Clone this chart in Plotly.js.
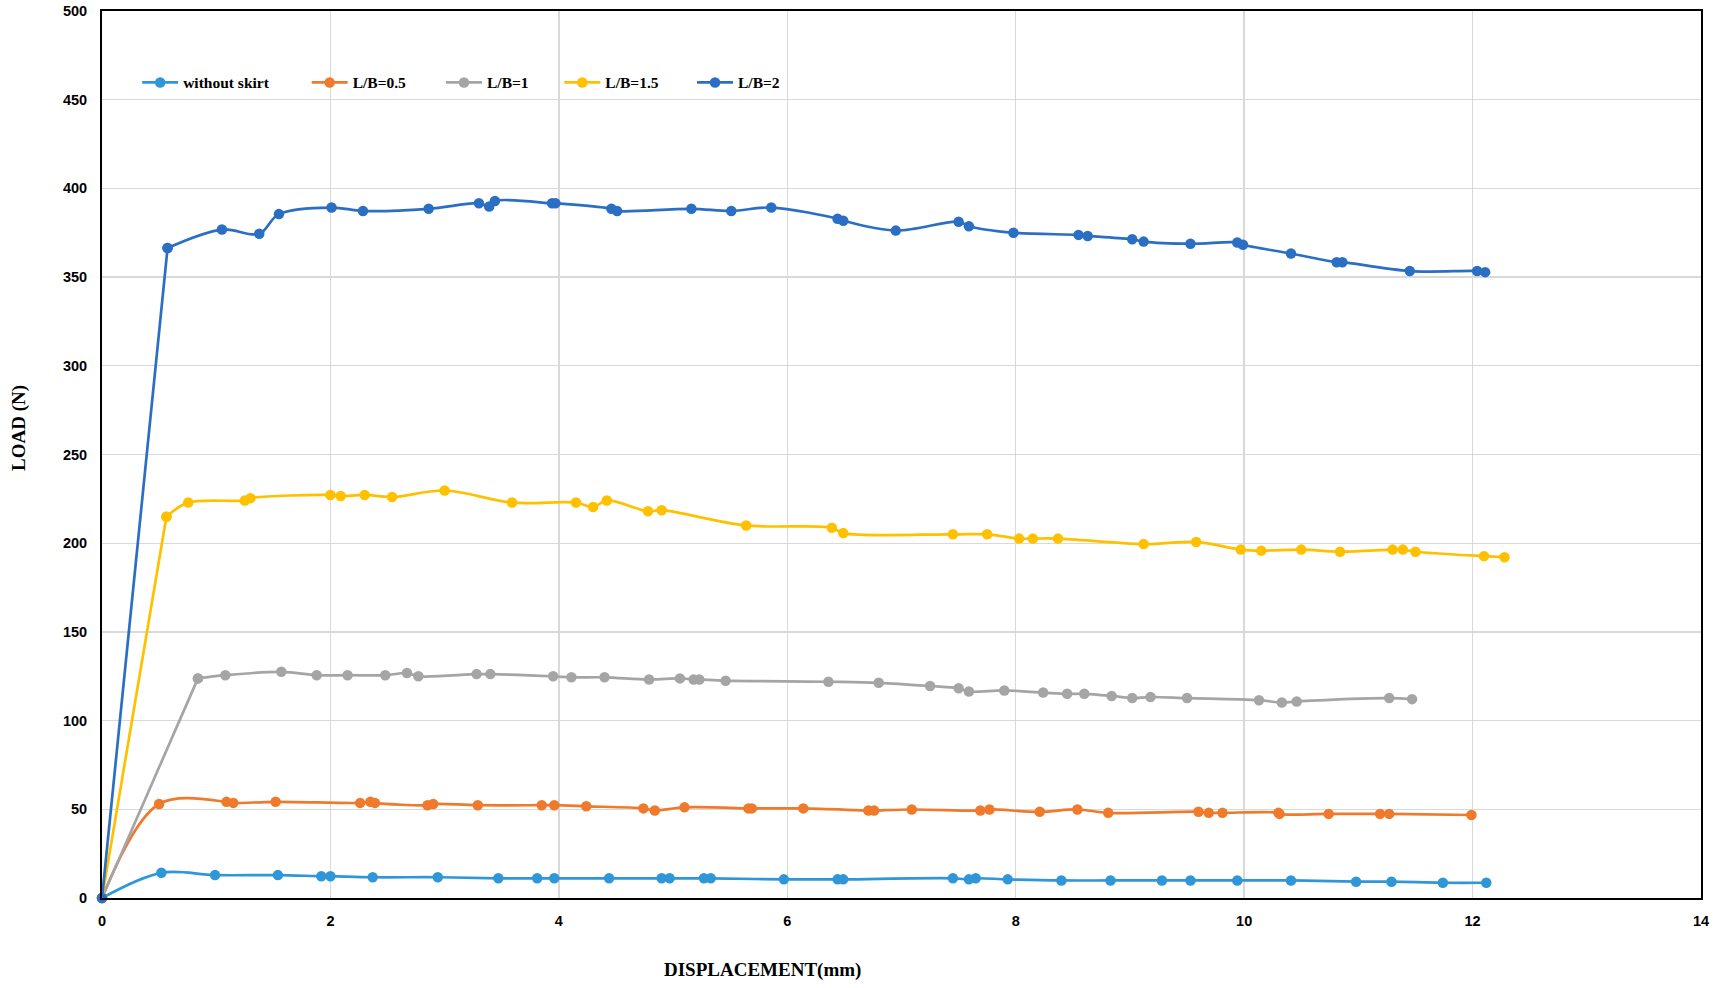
<!DOCTYPE html>
<html>
<head>
<meta charset="utf-8">
<script src="https://cdn.plot.ly/plotly-3.0.1.min.js"></script>
<style>html,body{margin:0;padding:0;background:#fff;}#chart{width:1713px;height:988px;}</style>
</head>
<body>
<div id="chart"></div>
<script>
// ---- data ----
const seriesNames = ["without skirt", "L/B=0.5", "L/B=1", "L/B=1.5", "L/B=2"];

const xNoSkirt = [0,0.52,0.99,1.54,1.92,2.00,2.37,2.94,3.47,3.81,3.96,4.44,4.90,4.97,5.27,5.33,5.97,6.44,6.49,7.45,7.59,7.65,7.93,8.40,8.83,9.28,9.53,9.94,10.41,10.98,11.29,11.74,12.12];
const yNoSkirt = [0,14.2,12.9,12.9,12.3,12.3,11.7,11.7,11.1,11.1,11.1,11.1,11.1,11.1,11.1,11.1,10.5,10.5,10.5,11.1,10.5,11.1,10.5,9.9,9.9,9.9,9.9,9.9,9.9,9.2,9.2,8.6,8.6];

const xLB05 = [0,0.50,1.09,1.15,1.52,2.26,2.35,2.39,2.85,2.90,3.29,3.85,3.96,4.24,4.74,4.84,5.10,5.66,5.69,6.14,6.71,6.76,7.09,7.69,7.77,8.21,8.54,8.81,9.60,9.69,9.81,10.30,10.31,10.74,11.19,11.27,11.99];
const yLB05 = [0,53.0,54.2,53.6,54.2,53.6,54.2,53.6,52.3,53.0,52.3,52.3,52.3,51.7,50.5,49.3,51.1,50.5,50.5,50.5,49.3,49.3,49.9,49.3,49.9,48.6,49.9,48.0,48.6,48.0,48.0,48.0,47.4,47.4,47.4,47.4,46.8];

const xLB1 = [0,0.84,1.08,1.57,1.88,2.15,2.48,2.67,2.77,3.28,3.40,3.95,4.11,4.40,4.79,5.06,5.18,5.23,5.46,6.36,6.80,7.25,7.50,7.59,7.90,8.24,8.45,8.60,8.84,9.02,9.18,9.50,10.13,10.33,10.46,11.27,11.47];
const yLB1 = [0,123.8,125.6,127.5,125.6,125.6,125.6,126.8,125.0,126.2,126.2,125.0,124.4,124.4,123.2,123.8,123.2,123.2,122.5,121.9,121.3,119.5,118.2,116.4,117.0,115.8,115.1,115.1,113.9,112.7,113.3,112.7,111.5,110.2,110.8,112.7,112.1];

const xLB15 = [0,0.564,0.755,1.25,1.30,2.00,2.09,2.30,2.54,3.00,3.59,4.15,4.30,4.42,4.78,4.90,5.64,6.39,6.49,7.45,7.75,8.03,8.15,8.37,9.12,9.58,9.97,10.15,10.50,10.84,11.30,11.39,11.50,12.10,12.28];
const yLB15 = [0,214.9,222.9,224.1,225.4,227.2,226.6,227.2,226.0,229.7,222.9,222.9,220.4,224.1,218.0,218.6,210.0,208.7,205.7,205.0,205.0,202.6,202.6,202.6,199.5,200.7,196.4,195.8,196.4,195.2,196.4,196.4,195.2,192.7,192.1];

const xLB2 = [0,0.574,1.05,1.377,1.549,2.01,2.285,2.86,3.30,3.39,3.44,3.94,3.97,4.46,4.51,5.16,5.51,5.86,6.44,6.49,6.95,7.50,7.59,7.98,8.55,8.63,9.02,9.12,9.53,9.94,9.99,10.41,10.81,10.86,11.45,12.04,12.11];
const yLB2 = [0,366.4,376.8,374.4,385.5,389.2,387.3,388.5,391.6,389.8,392.9,391.6,391.6,388.5,387.3,388.5,387.3,389.2,382.9,381.8,376.2,381.2,378.7,375.0,373.8,373.2,371.3,370.0,368.8,369.5,368.2,363.3,358.4,358.4,353.4,353.4,352.8];

const xTickVals = [0,2,4,6,8,10,12,14];
const yTickVals = [0,50,100,150,200,250,300,350,400,450,500];

// ---- styling ----
const colors = ["#2F97D8", "#F07A2C", "#A5A5A5", "#FFC000", "#2B6FC4"];
const xs = [xNoSkirt, xLB05, xLB1, xLB15, xLB2];
const ys = [yNoSkirt, yLB05, yLB1, yLB15, yLB2];
const straightStart = [false, false, true, true, true];
const legendIds = ["legend", "legend2", "legend3", "legend4", "legend5"];
const legendX = [0.022, 0.128, 0.212, 0.286, 0.369];

const serif = "'Liberation Serif', 'Times New Roman', serif";
const sans = "'Liberation Sans', Arial, sans-serif";
const LW = 2.7, MS = 10.5;

const traces = [];
seriesNames.forEach((n, i) => {
  if (straightStart[i]) {
    traces.push({
      type: "scatter", mode: "lines+markers", showlegend: false, hoverinfo: "skip",
      x: xs[i].slice(0, 2), y: ys[i].slice(0, 2),
      line: {color: colors[i], width: LW},
      marker: {color: colors[i], size: MS},
      cliponaxis: false, legend: legendIds[i]
    });
  }
  const s = straightStart[i] ? 1 : 0;
  traces.push({
    type: "scatter",
    mode: "lines+markers",
    name: n,
    x: xs[i].slice(s),
    y: ys[i].slice(s),
    line: {color: colors[i], width: LW, shape: "spline", smoothing: 1},
    marker: {color: colors[i], size: MS},
    cliponaxis: false,
    legend: legendIds[i]
  });
});

const legendBase = {
  orientation: "h",
  y: 0.919,
  yanchor: "middle",
  xanchor: "left",
  bgcolor: "rgba(0,0,0,0)",
  font: {family: serif, size: 15.5, color: "#000", weight: "bold"},
  itemwidth: 36,
  tracegroupgap: 0
};
const plotW = 1713 - 102 - 12, plotH = 988 - 11 - 90;
const layout = {
  width: 1713,
  height: 988,
  margin: {l: 102, r: 12, t: 11, b: 90},
  paper_bgcolor: "#fff",
  plot_bgcolor: "#fff",
  showlegend: true,
  xaxis: {
    range: [0, 14],
    tickvals: xTickVals,
    ticktext: xTickVals.map(String),
    showgrid: true,
    gridcolor: "#D9D9D9",
    gridwidth: 1.3,
    zeroline: false,
    showline: true,
    linecolor: "#000",
    linewidth: 2,
    mirror: true,
    ticks: "",
    tickfont: {family: sans, size: 14.5, color: "#000", weight: "bold"},
    ticklabelstandoff: 9
  },
  yaxis: {
    range: [0, 500],
    tickvals: yTickVals,
    ticktext: yTickVals.map(String),
    showgrid: true,
    gridcolor: "#D9D9D9",
    gridwidth: 1.3,
    zeroline: false,
    showline: true,
    linecolor: "#000",
    linewidth: 2,
    mirror: true,
    ticks: "",
    tickfont: {family: sans, size: 14.5, color: "#000", weight: "bold"},
    ticklabelstandoff: 10
  },
  annotations: [
    {text: "DISPLACEMENT(mm)", xref: "paper", yref: "paper",
     x: (762 - 102) / plotW, y: -(970 - 11 - plotH) / plotH, yanchor: "middle", showarrow: false,
     font: {family: serif, size: 19, color: "#000", weight: "bold"}},
    {text: "LOAD (N)", xref: "paper", yref: "paper",
     x: (19 - 102) / plotW, y: 1 - (428 - 11) / plotH, xanchor: "center", yanchor: "middle",
     textangle: -90, showarrow: false,
     font: {family: serif, size: 19, color: "#000", weight: "bold"}}
  ]
};

legendIds.forEach((id, i) => {
  layout[id] = Object.assign({}, legendBase, {x: legendX[i]});
});

Plotly.newPlot("chart", traces, layout, {displayModeBar: false, staticPlot: true});
</script>
</body>
</html>
